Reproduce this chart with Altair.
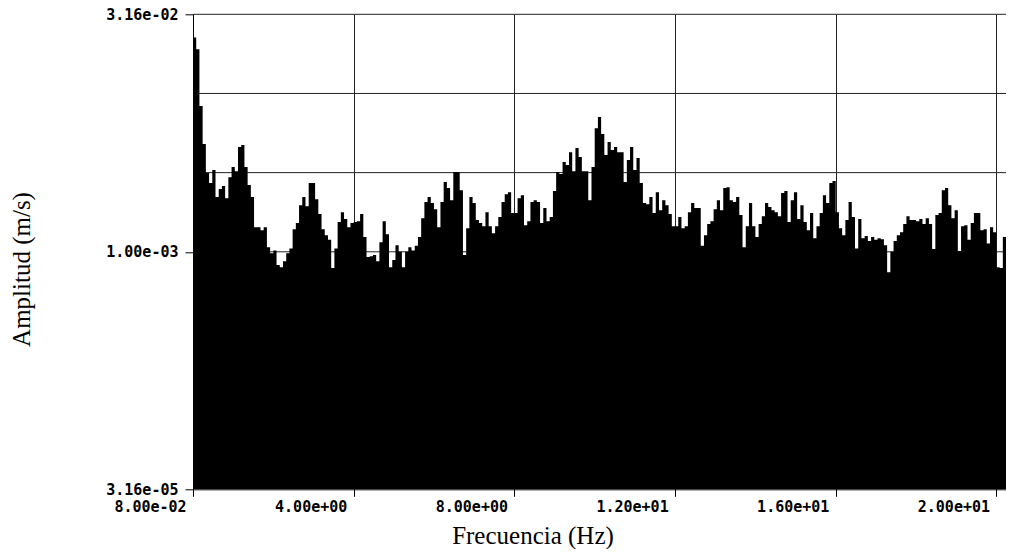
import altair as alt
import pandas as pd

# Spectrum amplitudes, in units of 1e-3 m/s (one per 0.08 Hz bin)
amplitude_1e3 = [
    22.6, 19.0, 8.32, 4.79, 3.14, 2.72, 3.28, 2.22, 2.49, 2.60,
    2.18, 2.96, 3.43, 3.23, 4.59, 4.72, 3.43, 2.64, 2.22, 1.43,
    1.43, 1.37, 1.43, 1.07, 0.98, 1.02, 0.824, 0.800, 0.873, 0.98,
    1.05, 1.39, 1.52, 1.97, 2.22, 1.94, 2.72, 2.72, 2.15, 1.73,
    1.39, 1.27, 1.19, 0.789, 1.05, 1.54, 1.78, 1.61, 1.43, 1.52,
    1.54, 1.56, 1.73, 1.24, 0.926, 0.939, 0.953, 0.873, 1.15, 1.56,
    1.29, 0.800, 0.886, 1.10, 1.00, 0.800, 1.00, 1.07, 1.02, 1.09,
    1.24, 1.63, 2.06, 2.22, 2.03, 1.86, 1.43, 2.06, 2.76, 2.53,
    2.12, 3.19, 3.19, 2.45, 0.953, 1.41, 2.22, 2.03, 1.59, 1.52,
    1.45, 1.78, 1.45, 1.31, 1.45, 1.66, 2.06, 2.31, 2.38, 1.76,
    1.76, 2.18, 2.28, 1.47, 1.56, 2.06, 2.12, 2.06, 1.52, 1.89,
    1.56, 1.66, 2.42, 3.19, 3.10, 3.69, 3.53, 4.26, 3.23, 4.52,
    3.97, 3.23, 3.23, 2.12, 3.43, 6.04, 7.10, 5.54, 4.08, 4.93,
    4.39, 4.59, 4.26, 4.26, 2.76, 3.80, 4.59, 3.28, 3.91, 2.72,
    2.03, 2.00, 2.22, 1.76, 2.38, 1.83, 2.12, 1.97, 1.73, 1.45,
    1.45, 1.66, 1.41, 1.45, 1.78, 2.03, 1.89, 1.89, 1.09, 1.27,
    1.50, 1.56, 1.86, 2.12, 1.83, 2.53, 2.56, 2.12, 2.06, 2.22,
    1.71, 1.07, 1.45, 2.03, 1.45, 1.24, 1.50, 1.68, 2.03, 1.92,
    1.83, 1.78, 1.68, 2.35, 2.42, 1.54, 2.12, 2.38, 1.61, 1.97,
    1.54, 1.37, 1.76, 1.22, 1.45, 1.76, 2.28, 2.03, 2.72, 2.80,
    1.78, 1.41, 1.27, 1.59, 2.06, 1.66, 1.05, 1.61, 1.22, 1.26,
    1.17, 1.24, 1.19, 1.22, 1.20, 1.10, 0.744, 1.00, 1.17, 1.27,
    1.33, 1.50, 1.68, 1.59, 1.59, 1.56, 1.61, 1.50, 1.63, 1.50,
    1.04, 1.71, 1.76, 2.45, 2.53, 1.97, 1.63, 1.83, 1.01, 1.45,
    1.47, 1.19, 1.52, 1.76, 1.76, 1.37, 1.39, 1.13, 1.43, 1.33,
    0.800, 0.789, 1.24, 1.50, 1.50, 1.50,
]
bin_width_hz = 0.08
freq_hz = [round(bin_width_hz * (i + 1), 2) for i in range(len(amplitude_1e3))]

x_tick_values = [0, 4, 8, 12, 16, 20]
x_tick_labels = ["8.00e-02", "4.00e+00", "8.00e+00", "1.20e+01", "1.60e+01", "2.00e+01"]
y_tick_values = [10 ** -4.5, 1e-3, 10 ** -1.5]
y_tick_labels = ["3.16e-05", "1.00e-03", "3.16e-02"]
y_grid_values = [10 ** -1.5, 1e-2, 10 ** -2.5, 1e-3, 10 ** -3.5, 1e-4]

Y_MIN, Y_MAX = 10 ** -4.5, 10 ** -1.5
PLOT_W, PLOT_H = 813, 475
PX_PER_HZ = 40.17
X_MAX = PLOT_W / PX_PER_HZ


def label_expr(values, labels, log=False):
    expr = f"'{labels[-1]}'"
    for i in range(len(values) - 2, -1, -1):
        a, b = values[i], values[i + 1]
        mid = (a * b) ** 0.5 if log else (a + b) / 2
        expr = f"datum.value < {mid!r} ? '{labels[i]}' : ({expr})"
    return expr


df = pd.DataFrame({"freq": freq_hz, "amp": [a * 1e-3 for a in amplitude_1e3]})

x_scale = alt.Scale(domain=[0, X_MAX], nice=False, zero=False)
y_scale = alt.Scale(type="log", domain=[Y_MIN, Y_MAX], nice=False)

label_font = "DejaVu Sans Mono"
title_font = "Liberation Serif"

x_axis = alt.Axis(
    values=x_tick_values,
    labelExpr=label_expr(x_tick_values, x_tick_labels),
    title="Frecuencia (Hz)",
    grid=True, gridColor="#222222", gridWidth=1, gridOpacity=1,
    domainColor="black", domainWidth=1,
    tickColor="black", tickSize=7, tickWidth=1,
    labelFont=label_font, labelFontSize=15, labelFontWeight="bold", labelColor="black",
    labelOffset=-43, labelPadding=3, labelBaseline="top", labelAlign="center",
    labelFlush=False, labelOverlap=False,
    titleFont=title_font, titleFontSize=25, titleFontWeight="normal", titleColor="black",
    titleX=339.5, titleY=54.5, titleAlign="center", titleBaseline="alphabetic",
)

y_axis = alt.Axis(
    values=y_tick_values,
    labelExpr=label_expr(y_tick_values, y_tick_labels, log=True),
    title="Amplitud (m/s)",
    grid=False,
    domainColor="black", domainWidth=1,
    tickColor="black", tickSize=8, tickWidth=1,
    labelFont=label_font, labelFontSize=15, labelFontWeight="bold", labelColor="black",
    labelPadding=7, labelAlign="right", labelBaseline="middle",
    labelFlush=False, labelOverlap=False,
    titleFont=title_font, titleFontSize=25, titleFontWeight="normal", titleColor="black",
    titleAngle=270, titleX=-163.5, titleY=254.7, titleAlign="center", titleBaseline="alphabetic",
)

grid = alt.Chart(pd.DataFrame({"g": y_grid_values})).mark_rule(
    color="#222222", strokeWidth=1
).encode(y=alt.Y("g:Q", scale=y_scale, axis=y_axis))

spectrum = alt.Chart(df).transform_calculate(
    start=f"datum.freq - {bin_width_hz}",
    base=repr(Y_MIN),
).mark_area(interpolate="step-after", color="black", clip=True).encode(
    x=alt.X("start:Q", scale=x_scale, axis=x_axis),
    y=alt.Y("amp:Q", scale=y_scale, axis=y_axis),
    y2="base:Q",
)

chart = alt.layer(grid, spectrum).properties(
    width=PLOT_W,
    height=PLOT_H,
    padding={"left": 185, "top": 6.3, "right": 0, "bottom": 59.7},
    autosize=alt.AutoSizeParams(type="none"),
    background="white",
).configure_view(stroke=None)

chart.save("out.html", embed_options={"renderer": "svg", "actions": False})
